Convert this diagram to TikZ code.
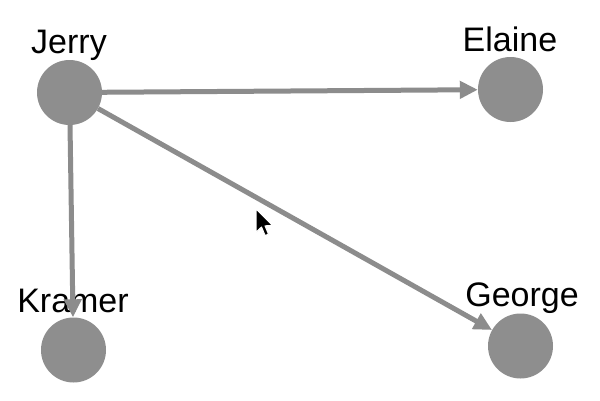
\documentclass[tikz,border=0pt]{standalone}
\usepackage{fontspec}
\setmainfont{Liberation Sans}
\usetikzlibrary{arrows.meta}
\definecolor{nodegrey}{HTML}{8E8E8E}
\definecolor{edgegrey}{HTML}{8C8C8C}
\begin{document}
\begin{tikzpicture}[x=1pt,y=-1pt,
  person/.style={circle,fill=nodegrey,minimum size=65pt,inner sep=0pt},
  namelabel/.style={anchor=base,font=\fontsize{34}{40}\selectfont,text=black,inner sep=0pt},
  link/.style={draw=edgegrey,line width=5pt,-{Triangle[length=18pt,width=17pt]}}]
\fill[white] (0,0) rectangle (600,400);
\useasboundingbox (0,0) rectangle (600,400);
\node[namelabel] (ljerry) at (69,53) {Jerry};
\node[namelabel] (lelaine) at (510,51) {Elaine};
\node[namelabel] (lkramer) at (73,312) {Kramer};
\node[namelabel] (lgeorge) at (522,306) {George};
\node[person] (jerry) at (69.5,92.5) {};
\node[person] (elaine) at (510.5,89.5) {};
\node[person] (kramer) at (73.5,350) {};
\node[person] (george) at (520.5,346) {};
\draw[link] (jerry) -- (elaine);
\draw[link] (jerry) -- (kramer);
\draw[link] (jerry) -- (george);
% mouse cursor
\begin{scope}[shift={(256,209)},scale=1.45]
\filldraw[fill=black,draw=white,line width=1pt,line join=round]
  (0,0) -- (0,16) -- (3.8,12.4) -- (6.3,18.3) -- (8.6,17.3) -- (6.2,11.6) -- (11.3,11.3) -- cycle;
\end{scope}
\end{tikzpicture}
\end{document}
